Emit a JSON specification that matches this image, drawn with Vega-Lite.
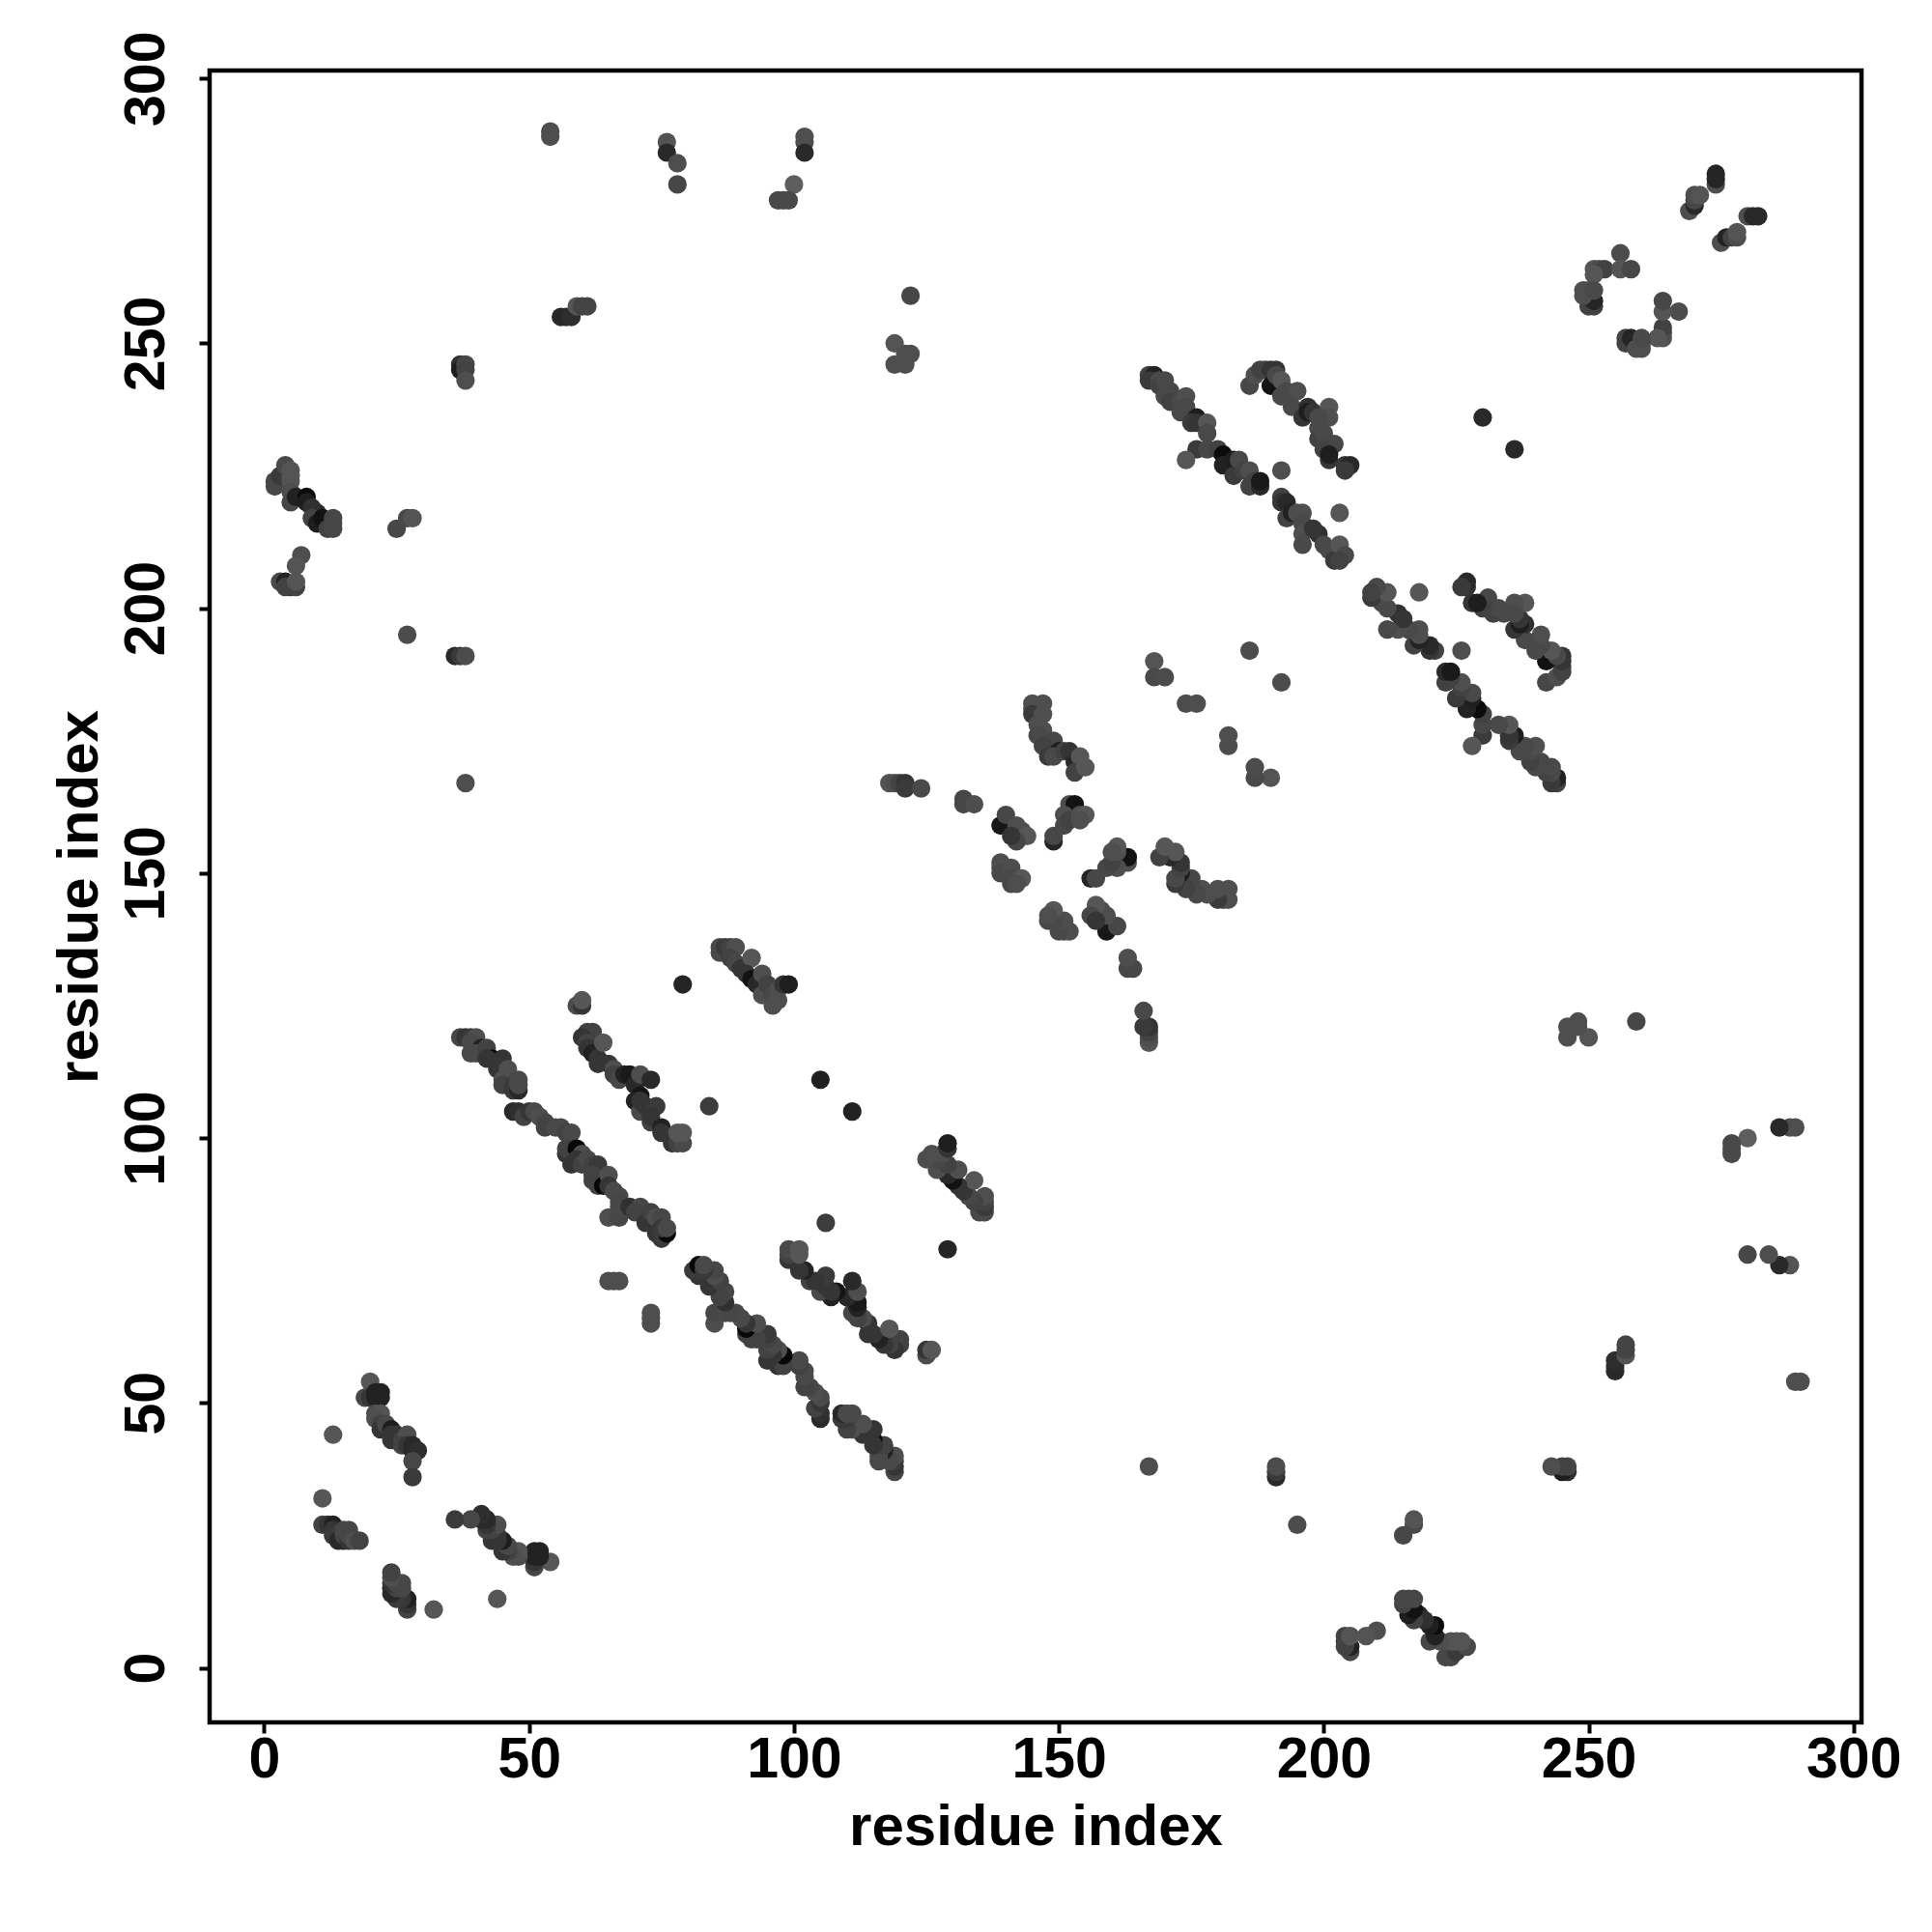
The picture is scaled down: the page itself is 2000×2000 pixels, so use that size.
{"$schema":"https://vega.github.io/schema/vega-lite/v6.json","width":1710,"height":1710,"autosize":{"type":"none"},"padding":{"left":217,"top":73,"right":73,"bottom":217},"background":"white",
"config":{"view":{"stroke":"#000000","strokeWidth":4.5},"axis":{"grid":false,"domain":false,"tickColor":"#000000","tickWidth":4,"tickSize":11,"labelColor":"#000000","titleColor":"#000000","labelFont":"Liberation Sans","titleFont":"Liberation Sans","labelFontWeight":"bold","titleFontWeight":"bold","labelFontSize":59,"titleFontSize":60,"labelOverlap":false,"labelFlush":false}},
"data":{"values":[
{"x":27,"y":195,"s":29},{"x":36,"y":191,"s":15},{"x":37,"y":191,"s":22},{"x":38,"y":191,"s":29},{"x":38,"y":167,"s":30},{"x":25,"y":215,"s":27},{"x":27,"y":217,"s":28},{"x":28,"y":217,"s":32},{"x":7,"y":210,"s":30},{"x":6,"y":208,"s":32},{"x":3,"y":205,"s":28},{"x":4,"y":205,"s":12},{"x":5,"y":204,"s":20},{"x":4,"y":204,"s":25},{"x":6,"y":204,"s":25},{"x":6,"y":205,"s":32},{"x":2,"y":224,"s":27},{"x":2,"y":223,"s":27},{"x":3,"y":225,"s":22},{"x":4,"y":227,"s":28},{"x":5,"y":226,"s":32},{"x":5,"y":225,"s":32},{"x":5,"y":224,"s":32},{"x":5,"y":222,"s":30},{"x":5,"y":220,"s":27},{"x":6,"y":221,"s":12},{"x":8,"y":221,"s":3},{"x":8,"y":220,"s":10},{"x":10,"y":218,"s":15},{"x":9,"y":219,"s":18},{"x":9,"y":217,"s":25},{"x":10,"y":216,"s":10},{"x":11,"y":217,"s":5},{"x":12,"y":215,"s":25},{"x":13,"y":217,"s":27},{"x":13,"y":216,"s":27},{"x":13,"y":215,"s":27},
{"x":54,"y":290,"s":30},{"x":54,"y":289,"s":30},{"x":76,"y":288,"s":32},{"x":76,"y":286,"s":15},{"x":78,"y":284,"s":30},{"x":78,"y":280,"s":27},{"x":100,"y":280,"s":36},{"x":97,"y":277,"s":28},{"x":98,"y":277,"s":28},{"x":99,"y":277,"s":28},{"x":102,"y":289,"s":30},{"x":102,"y":288,"s":30},{"x":102,"y":286,"s":15},{"x":56,"y":255,"s":15},{"x":57,"y":255,"s":15},{"x":58,"y":255,"s":17},{"x":59,"y":257,"s":32},{"x":60,"y":257,"s":26},{"x":61,"y":257,"s":26},{"x":37,"y":246,"s":18},{"x":37,"y":245,"s":10},{"x":38,"y":246,"s":27},{"x":38,"y":245,"s":25},{"x":38,"y":243,"s":30},{"x":122,"y":259,"s":27},{"x":119,"y":250,"s":32},{"x":122,"y":248,"s":30},{"x":121,"y":248,"s":30},{"x":121,"y":246,"s":30},{"x":119,"y":246,"s":30},
{"x":86,"y":136,"s":28},{"x":86,"y":135,"s":28},{"x":87,"y":136,"s":22},{"x":88,"y":136,"s":25},{"x":89,"y":136,"s":30},{"x":88,"y":134,"s":25},{"x":89,"y":133,"s":27},{"x":90,"y":132,"s":20},{"x":92,"y":134,"s":33},{"x":91,"y":131,"s":20},{"x":92,"y":130,"s":5},{"x":93,"y":129,"s":15},{"x":94,"y":131,"s":30},{"x":94,"y":127,"s":30},{"x":95,"y":129,"s":25},{"x":96,"y":127,"s":27},{"x":96,"y":125,"s":30},{"x":97,"y":126,"s":30},{"x":97,"y":128,"s":30},{"x":98,"y":129,"s":20},{"x":99,"y":129,"s":10},{"x":79,"y":129,"s":13},{"x":105,"y":111,"s":11},{"x":111,"y":105,"s":12},{"x":84,"y":106,"s":23},{"x":59,"y":125,"s":29},{"x":60,"y":125,"s":20},{"x":60,"y":126,"s":33},
{"x":37,"y":119,"s":27},{"x":38,"y":119,"s":20},{"x":39,"y":119,"s":22},{"x":40,"y":119,"s":30},{"x":39,"y":118,"s":28},{"x":41,"y":117,"s":12},{"x":39,"y":116,"s":28},{"x":40,"y":116,"s":28},{"x":42,"y":117,"s":25},{"x":43,"y":115,"s":3},{"x":42,"y":115,"s":20},{"x":45,"y":115,"s":20},{"x":44,"y":113,"s":20},{"x":44,"y":114,"s":20},{"x":46,"y":113,"s":30},{"x":45,"y":111,"s":30},{"x":45,"y":110,"s":25},{"x":47,"y":109,"s":22},{"x":47,"y":110,"s":22},{"x":48,"y":109,"s":15},{"x":48,"y":110,"s":28},{"x":48,"y":111,"s":28},
{"x":47,"y":105,"s":15},{"x":48,"y":105,"s":18},{"x":49,"y":104,"s":25},{"x":50,"y":105,"s":20},{"x":51,"y":105,"s":28},{"x":52,"y":104,"s":30},{"x":53,"y":103,"s":27},{"x":53,"y":102,"s":25},{"x":55,"y":102,"s":28},{"x":56,"y":102,"s":28},{"x":57,"y":101,"s":25},{"x":58,"y":101,"s":28},{"x":57,"y":97,"s":20},{"x":57,"y":98,"s":25},{"x":59,"y":98,"s":2},{"x":58,"y":95,"s":20},{"x":60,"y":97,"s":30},{"x":59,"y":96,"s":20},{"x":60,"y":95,"s":25},{"x":61,"y":96,"s":28},{"x":62,"y":95,"s":25},{"x":63,"y":95,"s":22},{"x":62,"y":93,"s":25},{"x":62,"y":92,"s":25},{"x":63,"y":91,"s":25},{"x":64,"y":91,"s":2},{"x":65,"y":93,"s":30},{"x":65,"y":91,"s":20},{"x":66,"y":90,"s":28},{"x":67,"y":89,"s":28},{"x":65,"y":85,"s":30},{"x":67,"y":85,"s":27},{"x":67,"y":87,"s":28},{"x":67,"y":88,"s":27},{"x":69,"y":87,"s":18},{"x":71,"y":87,"s":27},{"x":70,"y":86,"s":25},{"x":72,"y":84,"s":20},{"x":73,"y":86,"s":25},{"x":74,"y":85,"s":30},{"x":75,"y":85,"s":27},{"x":74,"y":82,"s":20},{"x":75,"y":81,"s":22},{"x":76,"y":82,"s":2},{"x":75,"y":83,"s":22},{"x":76,"y":83,"s":28},
{"x":61,"y":120,"s":25},{"x":62,"y":120,"s":25},{"x":60,"y":119,"s":20},{"x":61,"y":118,"s":25},{"x":61,"y":117,"s":20},{"x":62,"y":116,"s":12},{"x":63,"y":115,"s":20},{"x":64,"y":118,"s":33},{"x":63,"y":114,"s":20},{"x":65,"y":114,"s":20},{"x":66,"y":113,"s":30},{"x":66,"y":112,"s":25},{"x":67,"y":111,"s":27},{"x":68,"y":112,"s":12},{"x":69,"y":112,"s":8},{"x":70,"y":110,"s":15},{"x":71,"y":112,"s":30},{"x":73,"y":111,"s":15},{"x":71,"y":108,"s":6},{"x":70,"y":107,"s":12},{"x":71,"y":105,"s":28},{"x":71,"y":107,"s":20},{"x":72,"y":106,"s":20},{"x":74,"y":106,"s":22},{"x":73,"y":103,"s":25},{"x":73,"y":104,"s":20},{"x":75,"y":102,"s":12},{"x":75,"y":101,"s":20},{"x":77,"y":99,"s":20},{"x":78,"y":99,"s":25},{"x":79,"y":99,"s":28},{"x":78,"y":101,"s":33},{"x":79,"y":101,"s":33},{"x":65,"y":73,"s":30},{"x":66,"y":73,"s":30},{"x":67,"y":73,"s":30},
{"x":20,"y":54,"s":33},{"x":19,"y":51,"s":27},{"x":20,"y":51,"s":20},{"x":21,"y":52,"s":12},{"x":22,"y":52,"s":12},{"x":21,"y":51,"s":12},{"x":22,"y":51,"s":12},{"x":21,"y":48,"s":30},{"x":22,"y":48,"s":32},{"x":21,"y":47,"s":30},{"x":22,"y":46,"s":25},{"x":22,"y":45,"s":20},{"x":23,"y":46,"s":28},{"x":24,"y":45,"s":10},{"x":24,"y":44,"s":20},{"x":25,"y":44,"s":20},{"x":24,"y":43,"s":20},{"x":26,"y":43,"s":25},{"x":27,"y":44,"s":30},{"x":26,"y":42,"s":25},{"x":27,"y":42,"s":20},{"x":28,"y":42,"s":15},{"x":28,"y":41,"s":15},{"x":29,"y":41,"s":17},{"x":28,"y":39,"s":27},{"x":28,"y":36,"s":22},{"x":13,"y":44,"s":33},{"x":11,"y":32,"s":33},{"x":11,"y":27,"s":25},{"x":12,"y":27,"s":20},{"x":13,"y":27,"s":12},{"x":13,"y":26,"s":20},{"x":14,"y":25,"s":20},{"x":13,"y":25,"s":22},{"x":14,"y":24,"s":15},{"x":15,"y":24,"s":15},{"x":15,"y":25,"s":25},{"x":16,"y":24,"s":20},{"x":15,"y":26,"s":27},{"x":16,"y":26,"s":27},{"x":16,"y":25,"s":27},{"x":17,"y":24,"s":30},{"x":18,"y":24,"s":25},
{"x":145,"y":182,"s":30},{"x":147,"y":182,"s":30},{"x":145,"y":181,"s":30},{"x":145,"y":180,"s":22},{"x":147,"y":180,"s":30},{"x":146,"y":178,"s":30},{"x":147,"y":177,"s":30},{"x":146,"y":176,"s":28},{"x":149,"y":175,"s":27},{"x":147,"y":174,"s":25},{"x":148,"y":172,"s":22},{"x":150,"y":173,"s":10},{"x":149,"y":172,"s":28},{"x":151,"y":173,"s":25},{"x":152,"y":173,"s":20},{"x":153,"y":171,"s":15},{"x":154,"y":172,"s":33},{"x":153,"y":169,"s":25},{"x":155,"y":170,"s":33},{"x":118,"y":167,"s":32},{"x":119,"y":167,"s":30},{"x":120,"y":167,"s":25},{"x":121,"y":167,"s":20},{"x":121,"y":166,"s":22},{"x":124,"y":166,"s":28},{"x":132,"y":164,"s":27},{"x":132,"y":163,"s":27},{"x":134,"y":163,"s":30},{"x":139,"y":159,"s":7},{"x":140,"y":161,"s":27},{"x":142,"y":159,"s":30},{"x":143,"y":158,"s":30},{"x":144,"y":157,"s":33},{"x":142,"y":156,"s":27},{"x":141,"y":157,"s":20},{"x":139,"y":152,"s":30},{"x":139,"y":151,"s":30},{"x":139,"y":150,"s":28},{"x":141,"y":151,"s":30},{"x":141,"y":149,"s":28},{"x":141,"y":148,"s":28},{"x":143,"y":149,"s":33},{"x":142,"y":148,"s":30},{"x":152,"y":163,"s":30},{"x":153,"y":163,"s":5},{"x":151,"y":161,"s":30},{"x":151,"y":159,"s":27},{"x":152,"y":160,"s":25},{"x":154,"y":161,"s":30},{"x":155,"y":161,"s":33},{"x":154,"y":160,"s":30},{"x":149,"y":156,"s":13},{"x":149,"y":157,"s":27},
{"x":167,"y":244,"s":25},{"x":168,"y":244,"s":12},{"x":167,"y":243,"s":22},{"x":169,"y":243,"s":28},{"x":169,"y":242,"s":25},{"x":170,"y":243,"s":28},{"x":171,"y":241,"s":27},{"x":170,"y":240,"s":28},{"x":171,"y":239,"s":25},{"x":173,"y":239,"s":28},{"x":174,"y":240,"s":30},{"x":173,"y":237,"s":28},{"x":174,"y":238,"s":28},{"x":176,"y":236,"s":10},{"x":175,"y":235,"s":22},{"x":176,"y":235,"s":20},{"x":178,"y":235,"s":33},{"x":178,"y":233,"s":28},{"x":176,"y":230,"s":22},{"x":174,"y":228,"s":33},{"x":178,"y":230,"s":27},{"x":180,"y":230,"s":25},{"x":181,"y":229,"s":3},{"x":181,"y":227,"s":12},{"x":183,"y":228,"s":10},{"x":184,"y":228,"s":28},{"x":183,"y":225,"s":22},{"x":185,"y":226,"s":25},{"x":186,"y":226,"s":30},{"x":186,"y":223,"s":25},{"x":187,"y":224,"s":25},{"x":188,"y":223,"s":15},{"x":188,"y":224,"s":8},
{"x":186,"y":242,"s":27},{"x":187,"y":244,"s":30},{"x":188,"y":245,"s":25},{"x":189,"y":245,"s":25},{"x":190,"y":245,"s":20},{"x":191,"y":245,"s":20},{"x":190,"y":242,"s":5},{"x":191,"y":244,"s":28},{"x":192,"y":243,"s":33},{"x":192,"y":240,"s":28},{"x":193,"y":241,"s":28},{"x":195,"y":241,"s":30},{"x":194,"y":238,"s":28},{"x":196,"y":236,"s":20},{"x":197,"y":238,"s":18},{"x":197,"y":237,"s":10},{"x":198,"y":237,"s":20},{"x":201,"y":238,"s":33},{"x":201,"y":236,"s":30},{"x":199,"y":236,"s":28},{"x":199,"y":234,"s":28},{"x":199,"y":232,"s":25},{"x":200,"y":233,"s":28},{"x":202,"y":231,"s":27},{"x":200,"y":230,"s":25},{"x":201,"y":228,"s":20},{"x":201,"y":229,"s":10},{"x":204,"y":227,"s":20},{"x":205,"y":227,"s":15},{"x":204,"y":226,"s":22},{"x":192,"y":226,"s":30},{"x":203,"y":218,"s":33},{"x":230,"y":236,"s":15},{"x":186,"y":192,"s":29},{"x":168,"y":190,"s":32},{"x":168,"y":187,"s":28},{"x":170,"y":187,"s":29},{"x":174,"y":182,"s":29},{"x":176,"y":182,"s":30},
{"x":192,"y":221,"s":25},{"x":192,"y":220,"s":20},{"x":193,"y":220,"s":15},{"x":193,"y":217,"s":25},{"x":194,"y":218,"s":12},{"x":195,"y":218,"s":30},{"x":196,"y":218,"s":30},{"x":196,"y":216,"s":28},{"x":196,"y":214,"s":30},{"x":196,"y":212,"s":28},{"x":199,"y":214,"s":18},{"x":198,"y":215,"s":20},{"x":200,"y":212,"s":28},{"x":201,"y":211,"s":28},{"x":202,"y":209,"s":22},{"x":203,"y":212,"s":33},{"x":204,"y":210,"s":28},{"x":203,"y":209,"s":25},
{"x":274,"y":280,"s":30},{"x":274,"y":282,"s":13},{"x":274,"y":281,"s":13},{"x":269,"y":275,"s":30},{"x":270,"y":276,"s":15},{"x":270,"y":277,"s":27},{"x":270,"y":278,"s":30},{"x":271,"y":278,"s":32},{"x":280,"y":274,"s":30},{"x":281,"y":274,"s":15},{"x":282,"y":274,"s":15},{"x":275,"y":269,"s":30},{"x":276,"y":270,"s":12},{"x":277,"y":270,"s":25},{"x":278,"y":270,"s":30},{"x":278,"y":271,"s":32},{"x":256,"y":267,"s":29},{"x":251,"y":264,"s":32},{"x":252,"y":264,"s":29},{"x":253,"y":264,"s":25},{"x":256,"y":264,"s":32},{"x":258,"y":264,"s":27},{"x":251,"y":263,"s":33},{"x":250,"y":257,"s":25},{"x":251,"y":257,"s":25},{"x":251,"y":258,"s":13},{"x":249,"y":259,"s":30},{"x":249,"y":260,"s":30},{"x":250,"y":260,"s":30},{"x":251,"y":260,"s":28},
{"x":195,"y":27,"s":29},{"x":191,"y":36,"s":15},{"x":191,"y":37,"s":22},{"x":191,"y":38,"s":29},{"x":167,"y":38,"s":30},{"x":215,"y":25,"s":27},{"x":217,"y":27,"s":28},{"x":217,"y":28,"s":32},{"x":210,"y":7,"s":30},{"x":208,"y":6,"s":32},{"x":205,"y":3,"s":28},{"x":205,"y":4,"s":12},{"x":204,"y":5,"s":20},{"x":204,"y":4,"s":25},{"x":204,"y":6,"s":25},{"x":205,"y":6,"s":32},{"x":224,"y":2,"s":27},{"x":223,"y":2,"s":27},{"x":225,"y":3,"s":22},{"x":227,"y":4,"s":28},{"x":226,"y":5,"s":32},{"x":225,"y":5,"s":32},{"x":224,"y":5,"s":32},{"x":222,"y":5,"s":30},{"x":220,"y":5,"s":27},{"x":221,"y":6,"s":12},{"x":221,"y":8,"s":3},{"x":220,"y":8,"s":10},{"x":218,"y":10,"s":15},{"x":219,"y":9,"s":18},{"x":217,"y":9,"s":25},{"x":216,"y":10,"s":10},{"x":217,"y":11,"s":5},{"x":215,"y":12,"s":25},{"x":217,"y":13,"s":27},{"x":216,"y":13,"s":27},{"x":215,"y":13,"s":27},
{"x":290,"y":54,"s":30},{"x":289,"y":54,"s":30},{"x":288,"y":76,"s":32},{"x":286,"y":76,"s":15},{"x":284,"y":78,"s":30},{"x":280,"y":78,"s":27},{"x":280,"y":100,"s":36},{"x":277,"y":97,"s":28},{"x":277,"y":98,"s":28},{"x":277,"y":99,"s":28},{"x":289,"y":102,"s":30},{"x":288,"y":102,"s":30},{"x":286,"y":102,"s":15},{"x":255,"y":56,"s":15},{"x":255,"y":57,"s":15},{"x":255,"y":58,"s":17},{"x":257,"y":59,"s":32},{"x":257,"y":60,"s":26},{"x":257,"y":61,"s":26},{"x":246,"y":37,"s":18},{"x":245,"y":37,"s":10},{"x":246,"y":38,"s":27},{"x":245,"y":38,"s":25},{"x":243,"y":38,"s":30},{"x":259,"y":122,"s":27},{"x":250,"y":119,"s":32},{"x":248,"y":122,"s":30},{"x":248,"y":121,"s":30},{"x":246,"y":121,"s":30},{"x":246,"y":119,"s":30},
{"x":136,"y":86,"s":28},{"x":135,"y":86,"s":28},{"x":136,"y":87,"s":22},{"x":136,"y":88,"s":25},{"x":136,"y":89,"s":30},{"x":134,"y":88,"s":25},{"x":133,"y":89,"s":27},{"x":132,"y":90,"s":20},{"x":134,"y":92,"s":33},{"x":131,"y":91,"s":20},{"x":130,"y":92,"s":5},{"x":129,"y":93,"s":15},{"x":131,"y":94,"s":30},{"x":127,"y":94,"s":30},{"x":129,"y":95,"s":25},{"x":127,"y":96,"s":27},{"x":125,"y":96,"s":30},{"x":126,"y":97,"s":30},{"x":128,"y":97,"s":30},{"x":129,"y":98,"s":20},{"x":129,"y":99,"s":10},{"x":129,"y":79,"s":13},{"x":106,"y":84,"s":23},{"x":125,"y":59,"s":29},{"x":125,"y":60,"s":20},{"x":126,"y":60,"s":33},
{"x":119,"y":37,"s":27},{"x":119,"y":38,"s":20},{"x":119,"y":39,"s":22},{"x":119,"y":40,"s":30},{"x":118,"y":39,"s":28},{"x":117,"y":41,"s":12},{"x":116,"y":39,"s":28},{"x":116,"y":40,"s":28},{"x":117,"y":42,"s":25},{"x":115,"y":43,"s":3},{"x":115,"y":42,"s":20},{"x":115,"y":45,"s":20},{"x":113,"y":44,"s":20},{"x":114,"y":44,"s":20},{"x":113,"y":46,"s":30},{"x":111,"y":45,"s":30},{"x":110,"y":45,"s":25},{"x":109,"y":47,"s":22},{"x":110,"y":47,"s":22},{"x":109,"y":48,"s":15},{"x":110,"y":48,"s":28},{"x":111,"y":48,"s":28},
{"x":105,"y":47,"s":15},{"x":105,"y":48,"s":18},{"x":104,"y":49,"s":25},{"x":105,"y":50,"s":20},{"x":105,"y":51,"s":28},{"x":104,"y":52,"s":30},{"x":103,"y":53,"s":27},{"x":102,"y":53,"s":25},{"x":102,"y":55,"s":28},{"x":102,"y":56,"s":28},{"x":101,"y":57,"s":25},{"x":101,"y":58,"s":28},{"x":97,"y":57,"s":20},{"x":98,"y":57,"s":25},{"x":98,"y":59,"s":2},{"x":95,"y":58,"s":20},{"x":97,"y":60,"s":30},{"x":96,"y":59,"s":20},{"x":95,"y":60,"s":25},{"x":96,"y":61,"s":28},{"x":95,"y":62,"s":25},{"x":95,"y":63,"s":22},{"x":93,"y":62,"s":25},{"x":92,"y":62,"s":25},{"x":91,"y":63,"s":25},{"x":91,"y":64,"s":2},{"x":93,"y":65,"s":30},{"x":91,"y":65,"s":20},{"x":90,"y":66,"s":28},{"x":89,"y":67,"s":28},{"x":85,"y":65,"s":30},{"x":85,"y":67,"s":27},{"x":87,"y":67,"s":28},{"x":88,"y":67,"s":27},{"x":87,"y":69,"s":18},{"x":87,"y":71,"s":27},{"x":86,"y":70,"s":25},{"x":84,"y":72,"s":20},{"x":86,"y":73,"s":25},{"x":85,"y":74,"s":30},{"x":85,"y":75,"s":27},{"x":82,"y":74,"s":20},{"x":81,"y":75,"s":22},{"x":82,"y":76,"s":2},{"x":83,"y":75,"s":22},{"x":83,"y":76,"s":28},
{"x":120,"y":61,"s":25},{"x":120,"y":62,"s":25},{"x":119,"y":60,"s":20},{"x":118,"y":61,"s":25},{"x":117,"y":61,"s":20},{"x":116,"y":62,"s":12},{"x":115,"y":63,"s":20},{"x":118,"y":64,"s":33},{"x":114,"y":63,"s":20},{"x":114,"y":65,"s":20},{"x":113,"y":66,"s":30},{"x":112,"y":66,"s":25},{"x":111,"y":67,"s":27},{"x":112,"y":68,"s":12},{"x":112,"y":69,"s":8},{"x":110,"y":70,"s":15},{"x":112,"y":71,"s":30},{"x":111,"y":73,"s":15},{"x":108,"y":71,"s":6},{"x":107,"y":70,"s":12},{"x":105,"y":71,"s":28},{"x":107,"y":71,"s":20},{"x":106,"y":72,"s":20},{"x":106,"y":74,"s":22},{"x":103,"y":73,"s":25},{"x":104,"y":73,"s":20},{"x":102,"y":75,"s":12},{"x":101,"y":75,"s":20},{"x":99,"y":77,"s":20},{"x":99,"y":78,"s":25},{"x":99,"y":79,"s":28},{"x":101,"y":78,"s":33},{"x":101,"y":79,"s":33},{"x":73,"y":65,"s":30},{"x":73,"y":66,"s":30},{"x":73,"y":67,"s":30},
{"x":54,"y":20,"s":33},{"x":51,"y":19,"s":27},{"x":51,"y":20,"s":20},{"x":52,"y":21,"s":12},{"x":52,"y":22,"s":12},{"x":51,"y":21,"s":12},{"x":51,"y":22,"s":12},{"x":48,"y":21,"s":30},{"x":48,"y":22,"s":32},{"x":47,"y":21,"s":30},{"x":46,"y":22,"s":25},{"x":45,"y":22,"s":20},{"x":46,"y":23,"s":28},{"x":45,"y":24,"s":10},{"x":44,"y":24,"s":20},{"x":44,"y":25,"s":20},{"x":43,"y":24,"s":20},{"x":43,"y":26,"s":25},{"x":44,"y":27,"s":30},{"x":42,"y":26,"s":25},{"x":42,"y":27,"s":20},{"x":42,"y":28,"s":15},{"x":41,"y":28,"s":15},{"x":41,"y":29,"s":17},{"x":39,"y":28,"s":27},{"x":36,"y":28,"s":22},{"x":44,"y":13,"s":33},{"x":32,"y":11,"s":33},{"x":27,"y":11,"s":25},{"x":27,"y":12,"s":20},{"x":27,"y":13,"s":12},{"x":26,"y":13,"s":20},{"x":25,"y":14,"s":20},{"x":25,"y":13,"s":22},{"x":24,"y":14,"s":15},{"x":24,"y":15,"s":15},{"x":25,"y":15,"s":25},{"x":24,"y":16,"s":20},{"x":26,"y":15,"s":27},{"x":26,"y":16,"s":27},{"x":25,"y":16,"s":27},{"x":24,"y":17,"s":30},{"x":24,"y":18,"s":25},
{"x":182,"y":145,"s":30},{"x":182,"y":147,"s":30},{"x":181,"y":145,"s":30},{"x":180,"y":145,"s":22},{"x":180,"y":147,"s":30},{"x":178,"y":146,"s":30},{"x":177,"y":147,"s":30},{"x":176,"y":146,"s":28},{"x":175,"y":149,"s":27},{"x":174,"y":147,"s":25},{"x":172,"y":148,"s":22},{"x":173,"y":150,"s":10},{"x":172,"y":149,"s":28},{"x":173,"y":151,"s":25},{"x":173,"y":152,"s":20},{"x":171,"y":153,"s":15},{"x":172,"y":154,"s":33},{"x":169,"y":153,"s":25},{"x":170,"y":155,"s":33},{"x":167,"y":118,"s":32},{"x":167,"y":119,"s":30},{"x":167,"y":120,"s":25},{"x":167,"y":121,"s":20},{"x":166,"y":121,"s":22},{"x":166,"y":124,"s":28},{"x":164,"y":132,"s":27},{"x":163,"y":132,"s":27},{"x":163,"y":134,"s":30},{"x":159,"y":139,"s":7},{"x":161,"y":140,"s":27},{"x":159,"y":142,"s":30},{"x":158,"y":143,"s":30},{"x":157,"y":144,"s":33},{"x":156,"y":142,"s":27},{"x":157,"y":141,"s":20},{"x":152,"y":139,"s":30},{"x":151,"y":139,"s":30},{"x":150,"y":139,"s":28},{"x":151,"y":141,"s":30},{"x":149,"y":141,"s":28},{"x":148,"y":141,"s":28},{"x":149,"y":143,"s":33},{"x":148,"y":142,"s":30},{"x":163,"y":152,"s":30},{"x":163,"y":153,"s":5},{"x":161,"y":151,"s":30},{"x":159,"y":151,"s":27},{"x":160,"y":152,"s":25},{"x":161,"y":154,"s":30},{"x":161,"y":155,"s":33},{"x":160,"y":154,"s":30},{"x":156,"y":149,"s":13},{"x":157,"y":149,"s":27},
{"x":244,"y":167,"s":25},{"x":244,"y":168,"s":12},{"x":243,"y":167,"s":22},{"x":243,"y":169,"s":28},{"x":242,"y":169,"s":25},{"x":243,"y":170,"s":28},{"x":241,"y":171,"s":27},{"x":240,"y":170,"s":28},{"x":239,"y":171,"s":25},{"x":239,"y":173,"s":28},{"x":240,"y":174,"s":30},{"x":237,"y":173,"s":28},{"x":238,"y":174,"s":28},{"x":236,"y":176,"s":10},{"x":235,"y":175,"s":22},{"x":235,"y":176,"s":20},{"x":235,"y":178,"s":33},{"x":233,"y":178,"s":28},{"x":230,"y":176,"s":22},{"x":228,"y":174,"s":33},{"x":230,"y":178,"s":27},{"x":230,"y":180,"s":25},{"x":229,"y":181,"s":3},{"x":227,"y":181,"s":12},{"x":228,"y":183,"s":10},{"x":228,"y":184,"s":28},{"x":225,"y":183,"s":22},{"x":226,"y":185,"s":25},{"x":226,"y":186,"s":30},{"x":223,"y":186,"s":25},{"x":224,"y":187,"s":25},{"x":223,"y":188,"s":15},{"x":224,"y":188,"s":8},
{"x":242,"y":186,"s":27},{"x":244,"y":187,"s":30},{"x":245,"y":188,"s":25},{"x":245,"y":189,"s":25},{"x":245,"y":190,"s":20},{"x":245,"y":191,"s":20},{"x":242,"y":190,"s":5},{"x":244,"y":191,"s":28},{"x":243,"y":192,"s":33},{"x":240,"y":192,"s":28},{"x":241,"y":193,"s":28},{"x":241,"y":195,"s":30},{"x":238,"y":194,"s":28},{"x":236,"y":196,"s":20},{"x":238,"y":197,"s":18},{"x":237,"y":197,"s":10},{"x":237,"y":198,"s":20},{"x":238,"y":201,"s":33},{"x":236,"y":201,"s":30},{"x":236,"y":199,"s":28},{"x":234,"y":199,"s":28},{"x":232,"y":199,"s":25},{"x":233,"y":200,"s":28},{"x":231,"y":202,"s":27},{"x":230,"y":200,"s":25},{"x":228,"y":201,"s":20},{"x":229,"y":201,"s":10},{"x":227,"y":204,"s":20},{"x":227,"y":205,"s":15},{"x":226,"y":204,"s":22},{"x":226,"y":192,"s":30},{"x":218,"y":203,"s":33},{"x":236,"y":230,"s":15},{"x":192,"y":186,"s":29},{"x":190,"y":168,"s":32},{"x":187,"y":168,"s":28},{"x":187,"y":170,"s":29},{"x":182,"y":174,"s":29},{"x":182,"y":176,"s":30},
{"x":221,"y":192,"s":25},{"x":220,"y":192,"s":20},{"x":220,"y":193,"s":15},{"x":217,"y":193,"s":25},{"x":218,"y":194,"s":12},{"x":218,"y":195,"s":30},{"x":218,"y":196,"s":30},{"x":216,"y":196,"s":28},{"x":214,"y":196,"s":30},{"x":212,"y":196,"s":28},{"x":214,"y":199,"s":18},{"x":215,"y":198,"s":20},{"x":212,"y":200,"s":28},{"x":211,"y":201,"s":28},{"x":209,"y":202,"s":22},{"x":212,"y":203,"s":33},{"x":210,"y":204,"s":28},{"x":209,"y":203,"s":25},
{"x":267,"y":256,"s":29},{"x":264,"y":251,"s":32},{"x":264,"y":252,"s":29},{"x":264,"y":253,"s":25},{"x":264,"y":256,"s":32},{"x":264,"y":258,"s":27},{"x":263,"y":251,"s":33},{"x":257,"y":250,"s":25},{"x":257,"y":251,"s":25},{"x":258,"y":251,"s":13},{"x":259,"y":249,"s":30},{"x":260,"y":249,"s":30},{"x":260,"y":250,"s":30},{"x":260,"y":251,"s":28}
]},
"mark":{"type":"circle","size":370,"opacity":1},
"encoding":{
"x":{"field":"x","type":"quantitative","scale":{"domain":[-10.3,301.5],"nice":false,"zero":false},"axis":{"values":[0,50,100,150,200,250,300],"title":"residue index","labelBaseline":"alphabetic","labelPadding":45,"titleBaseline":"alphabetic","titleY":126}},
"y":{"field":"y","type":"quantitative","scale":{"domain":[-10.3,301.5],"nice":false,"zero":false},"axis":{"values":[0,50,100,150,200,250,300],"title":"residue index","labelAngle":-90,"labelAlign":"center","labelBaseline":"alphabetic","labelPadding":37,"titleBaseline":"alphabetic","titleAngle":-90,"titleX":-117}},
"color":{"field":"s","type":"quantitative","scale":{"domain":[0,90],"range":["#000000","#ffffff"]},"legend":null},
"order":{"value":0}
}}
